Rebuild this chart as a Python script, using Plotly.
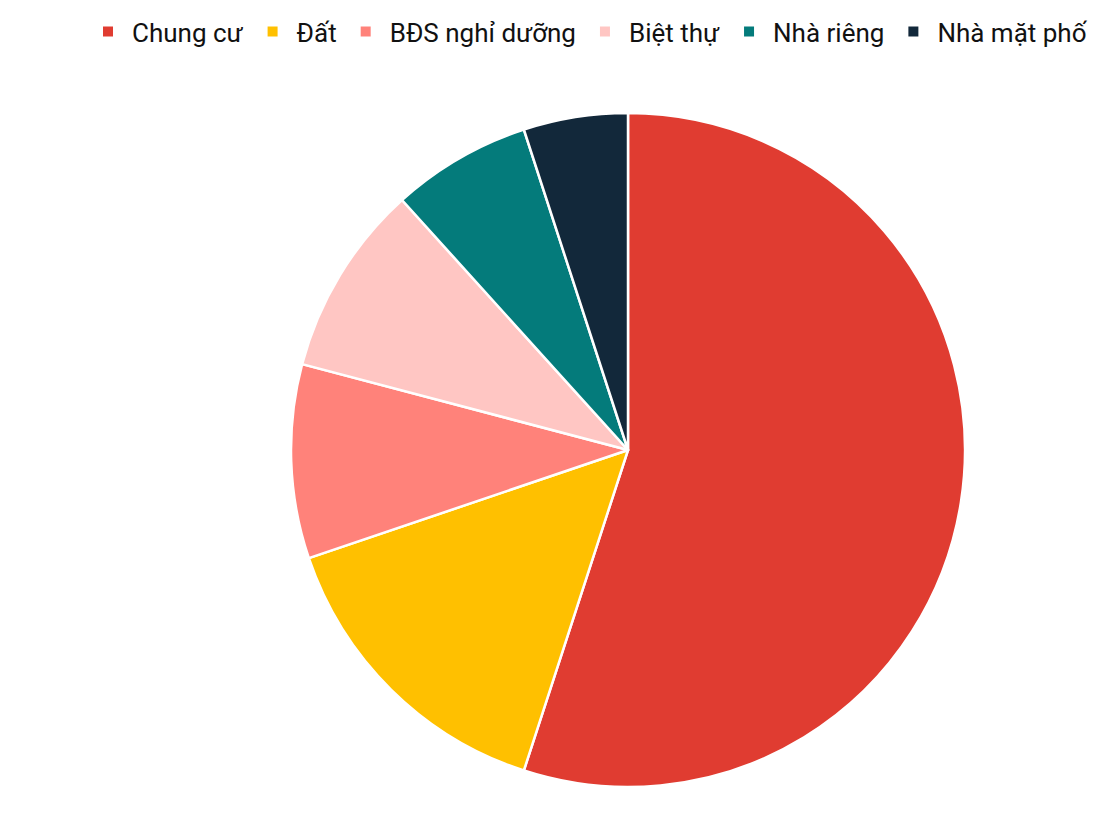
import plotly.graph_objects as go

categories = ["Chung cư", "Đất", "BĐS nghỉ dưỡng", "Biệt thự", "Nhà riêng", "Nhà mặt phố"]
values = [55.0, 14.8, 9.3, 9.2, 6.7, 5.0]
colors = ["#E03C31", "#FFC000", "#FF827A", "#FFC6C3", "#047B7B", "#12283A"]

W, H = 1108, 836
# page body has an 8px margin, so aim the centre 8px up/left
cx, cy, r = 620, 442, 337
mt = cy - r
mb = H - (cy + r)

fig = go.Figure(go.Pie(
    labels=categories,
    values=values,
    sort=False,
    direction="clockwise",
    rotation=0,
    marker=dict(colors=colors, line=dict(color="white", width=2.5)),
    textinfo="none",
    hoverinfo="label+percent",
    domain=dict(x=[(2 * cx / W) - 1.0, 1.0], y=[0, 1]),
))

fig.update_layout(
    width=W, height=H,
    margin=dict(l=0, r=0, t=mt, b=mb, autoexpand=False),
    paper_bgcolor="white",
    plot_bgcolor="white",
    font=dict(family="Roboto", color="#111111"),
    showlegend=True,
    legend=dict(
        orientation="h",
        x=76 / W, xanchor="left",
        yref="container", y=1.0, yanchor="top",
        font=dict(size=26, family="Roboto", color="#111111"),
        itemsizing="constant",
        itemwidth=38,
        traceorder="normal",
    ),
)

fig.write_html("out.html")
